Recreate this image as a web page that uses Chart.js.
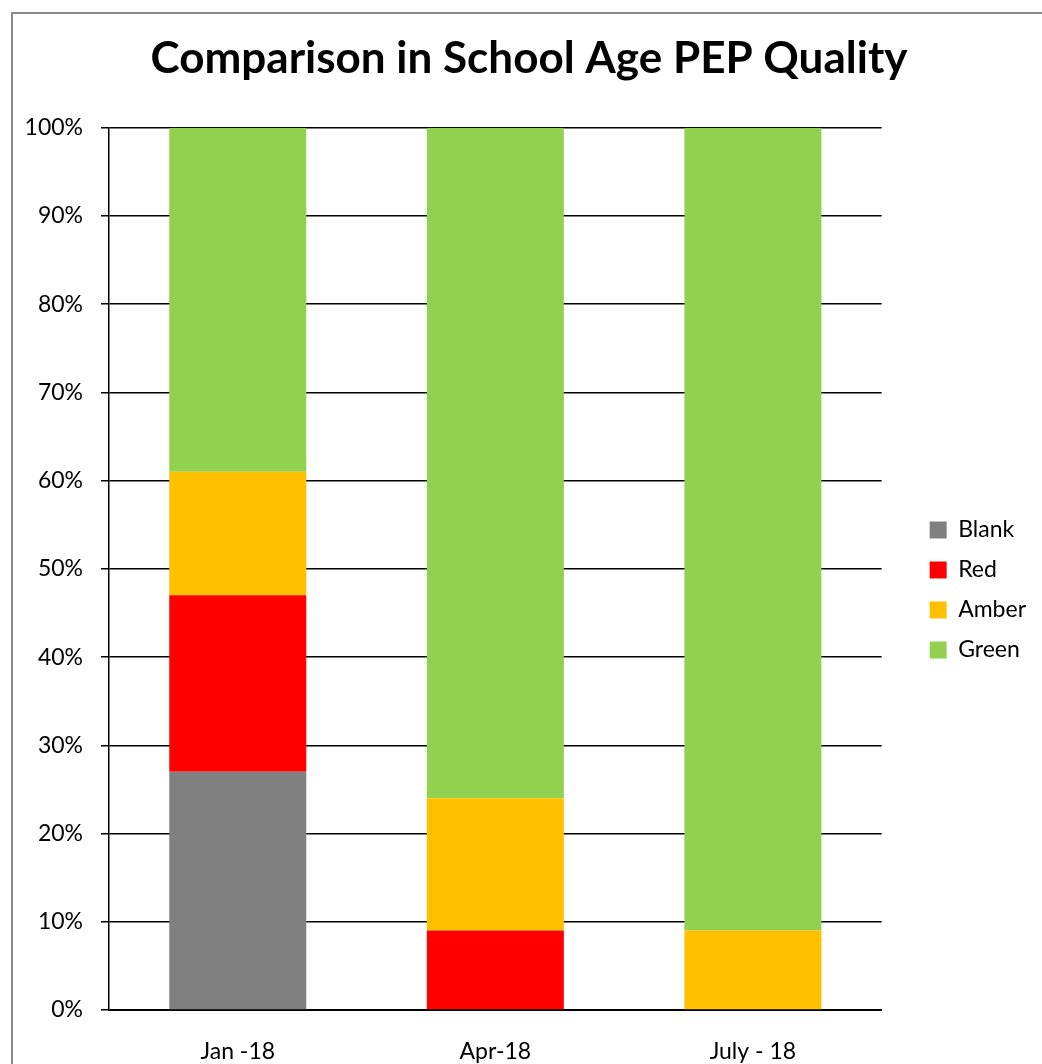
<!DOCTYPE html>
<html>
<head>
<meta charset="utf-8">
<title>Comparison in School Age PEP Quality</title>
<script src="https://cdn.jsdelivr.net/npm/chart.js@4"></script>
<style>
  html, body { margin: 0; padding: 0; background: #fff; overflow: hidden; }
  #wrap { position: relative; width: 1042px; height: 1064px; }
  #frame {
    position: absolute; left: 11px; top: 12px; width: 1100px; height: 1100px;
    border: 2px solid #898989; pointer-events: none; box-sizing: border-box;
  }
  canvas { position: absolute; left: 0; top: 0; }
</style>
</head>
<body>
<div id="wrap">
  <canvas id="chart" width="1042" height="1064"></canvas>
  <div id="frame"></div>
</div>
<script>
// Survey periods
const categories = ['Jan -18', 'Apr-18', 'July - 18'];

// Share of PEPs in each rating (percent)
const blankValues = [27, 0, 0];
const redValues   = [20, 9, 0];
const amberValues = [14, 15, 9];
const greenValues = [39, 76, 91];

// Y axis ticks (percent)
const yTicks = [0, 10, 20, 30, 40, 50, 60, 70, 80, 90, 100];

const FONT = 'Lato, "Open Sans", "DejaVu Sans", sans-serif';

// Detaches the legend from the plot and centres the title on the outer frame
const blockPlacement = {
  id: 'blockPlacement',
  afterLayout(chart, args, opts) {
    const lg = chart.legend;
    if (lg) {
      const pad = lg.options.labels.padding;
      const dx = chart.chartArea.right + opts.legendGap - (lg.left + pad);
      lg.left += dx; lg.right += dx;
      lg.top += opts.legendShiftY; lg.bottom += opts.legendShiftY;
    }
    const tb = chart.titleBlock;
    if (tb) {
      const cx = (tb.left + tb.right) / 2;
      const d = opts.titleCenterX - cx;
      tb.left += d; tb.right += d;
    }
  }
};

new Chart(document.getElementById('chart'), {
  type: 'bar',
  data: {
    labels: categories,
    datasets: [
      { label: 'Blank', data: blankValues, backgroundColor: '#808080' },
      { label: 'Red',   data: redValues,   backgroundColor: '#FF0000' },
      { label: 'Amber', data: amberValues, backgroundColor: '#FFC000' },
      { label: 'Green', data: greenValues, backgroundColor: '#92D050' }
    ]
  },
  plugins: [blockPlacement],
  options: {
    responsive: false,
    animation: false,
    devicePixelRatio: 1,
    layout: { padding: { left: 0, right: 37, top: 0, bottom: 0 } },
    datasets: {
      bar: { barPercentage: 0.532, categoryPercentage: 1.0, borderWidth: 0 }
    },
    plugins: {
      title: {
        display: true,
        text: 'Comparison in School Age PEP Quality',
        color: '#000',
        font: { family: FONT, size: 44, weight: 'bold' },
        padding: { top: 32, bottom: 43 }
      },
      legend: {
        position: 'right',
        fullSize: false,
        labels: {
          color: '#000',
          font: { family: FONT, size: 23 },
          boxWidth: 17,
          boxHeight: 17,
          padding: 17
        }
      },
      blockPlacement: { legendGap: 48, legendShiftY: 21, titleCenterX: 529 },
      tooltip: { enabled: false }
    },
    scales: {
      x: {
        stacked: true,
        grid: { display: false, drawTicks: false },
        border: { display: true, color: '#000', width: 2 },
        ticks: {
          color: '#000',
          font: { family: FONT, size: 23 },
          padding: 28,
          maxRotation: 0
        },
        afterFit(scale) { scale.height = 54; }
      },
      y: {
        stacked: true,
        min: 0,
        max: 100,
        afterBuildTicks(scale) { scale.ticks = yTicks.map(v => ({ value: v })); },
        grid: { color: '#000', lineWidth: 1.5, tickLength: 8, drawTicks: true },
        border: { display: true, color: '#000', width: 1.5 },
        ticks: {
          color: '#000',
          font: { family: FONT, size: 23 },
          padding: 18,
          callback: v => v + '%'
        },
        afterFit(scale) { scale.width = 109; }
      }
    }
  }
});
</script>
</body>
</html>
